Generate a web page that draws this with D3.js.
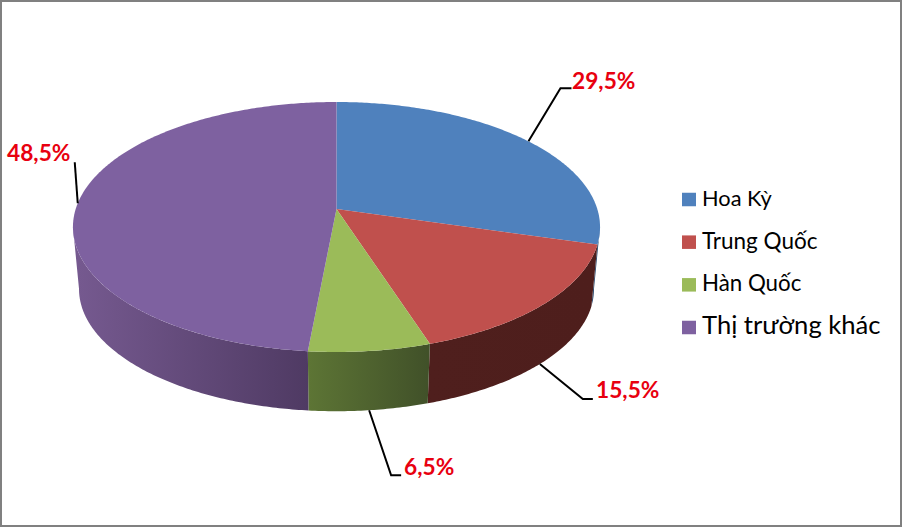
<!DOCTYPE html>
<html><head><meta charset="utf-8">
<script src="https://cdnjs.cloudflare.com/ajax/libs/d3/7.8.5/d3.min.js"></script>
<style>html,body{margin:0;padding:0;background:#fff}svg{display:block}</style>
</head><body><svg id="c" width="902" height="527"></svg>
<script>
const categories = ["Hoa Kỳ","Trung Quốc","Hàn Quốc","Thị trường khác"];
const values = [29.5,15.5,6.5,48.5];
const labels = ["29,5%","15,5%","6,5%","48,5%"];
const topColors = ["#4f81bd","#c0504d","#9bbb59","#7e61a0"];
const sideFrom = ["#2f4d72","#4f1f1d","#5d7535","#75598f"];
const sideTo   = ["#2c4a6e","#4e1e1c","#415129","#4f3a63"];

const W=902,H=527;
const svg=d3.select("#c");
svg.append("rect").attr("x",1).attr("y",1).attr("width",W-2).attr("height",H-2)
  .attr("fill","#fff").attr("stroke","#808080").attr("stroke-width",2);

// perspective projection of a tilted disc
const cx=336.5, p=0.1439;
const upper={y0:209,sx:260.8,sy:122.4};
const lower={y0:271.5,sx:254.8,sy:119.6};
const proj=(a,f)=>{const u=Math.sin(a),v=Math.cos(a),d=1+p*v;
  return [cx+f.sx*u/d,f.y0-f.sy*v/d];};
const arcPts=(a0,a1,f)=>d3.range(0,1.0001,1/Math.max(2,Math.ceil((a1-a0)*90)))
  .map(t=>proj(a0+(a1-a0)*t,f));
const line=d3.line();
const arcs=d3.pie().sort(null).value(d=>d)(values);

// wall is only seen between the two silhouette angles of the disc
const visA=Math.acos(-p), visB=2*Math.PI-visA;
const wallRange=s=>[Math.max(s.startAngle,visA),Math.min(s.endAngle,visB)];

const defs=svg.append("defs");
arcs.forEach((s,i)=>{
  const [a0,a1]=wallRange(s);
  const xs=arcPts(a0,a1,lower).map(q=>q[0]);
  const g=defs.append("linearGradient").attr("id","side"+i).attr("gradientUnits","userSpaceOnUse")
    .attr("x1",d3.min(xs)).attr("x2",d3.max(xs)).attr("y1",0).attr("y2",0);
  g.append("stop").attr("offset",0).attr("stop-color",sideFrom[i]);
  g.append("stop").attr("offset",1).attr("stop-color",sideTo[i]);
});

// side wall
svg.append("g").selectAll("path").data(arcs).join("path")
  .attr("d",s=>{const [a0,a1]=wallRange(s);
    return line([...arcPts(a0,a1,upper),...arcPts(a0,a1,lower).reverse()])+"Z";})
  .attr("fill",(s,i)=>`url(#side${i})`);
// top face
svg.append("g").selectAll("path").data(arcs).join("path")
  .attr("d",s=>line([[cx,upper.y0],...arcPts(s.startAngle,s.endAngle,upper)])+"Z")
  .attr("fill",(s,i)=>topColors[i]);

// leaders + labels
const layout=[
 {f:upper,e:[32,-53], t:[43,-53], x:572,y:81},
 {f:lower,e:[43,35],  t:[53,35],  x:596,y:390},
 {f:lower,e:[22,65],  t:[32,65],  x:404,y:467},
 {f:upper,e:[-3,-41], t:[-3,-41], x:7,y:153}
];
const mid=s=>(s.startAngle+s.endAngle)/2;
svg.append("g").selectAll("path").data(arcs).join("path")
  .attr("d",(s,i)=>{const q=proj(mid(s),layout[i].f),l=layout[i];
    return line([q,[q[0]+l.e[0],q[1]+l.e[1]],[q[0]+l.t[0],q[1]+l.t[1]]]);})
  .attr("fill","none").attr("stroke","#000").attr("stroke-width",2);
svg.append("g").selectAll("text").data(labels).join("text")
  .attr("x",(d,i)=>layout[i].x).attr("y",(d,i)=>layout[i].y)
  .attr("dy",".35em").attr("fill","#e8000f")
  .attr("font-family","Lato,'Open Sans',sans-serif").attr("font-weight",700).attr("font-size",22.7)
  .text(d=>d);

// legend
const legendY=d3.scalePoint().domain(categories).range([199.5,327.5]);
const fontSizes=[21.8,22.5,22.3,25.6];
const lg=svg.append("g").selectAll("g").data(categories).join("g")
  .attr("transform",d=>`translate(682,${legendY(d)})`);
lg.append("rect").attr("y",-6.75).attr("width",14).attr("height",13.5).attr("fill",(d,i)=>topColors[i]);
lg.append("text").attr("x",20).attr("y",6.5)
  .attr("font-family","Lato,'Open Sans',sans-serif").attr("font-size",(d,i)=>fontSizes[i])
  .attr("fill","#000").text(d=>d);
</script></body></html>
